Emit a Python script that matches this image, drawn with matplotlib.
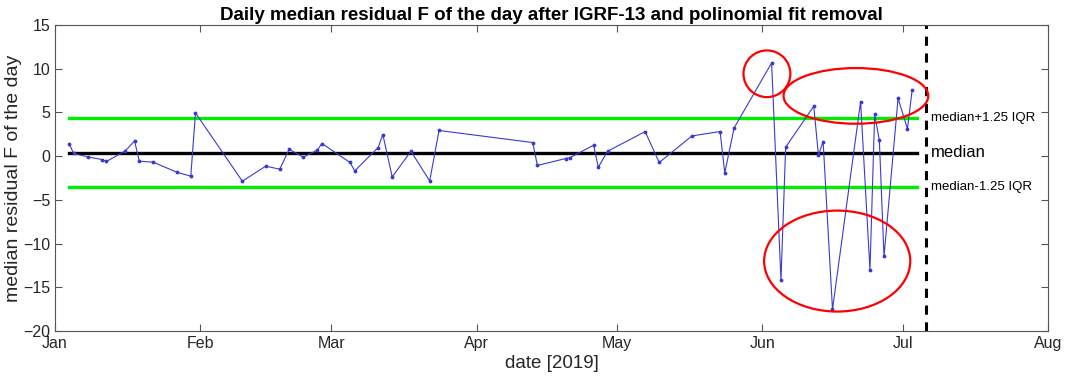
import matplotlib
matplotlib.use("Agg")
import matplotlib.pyplot as plt
import matplotlib.dates as mdates
import numpy as np
from matplotlib.patches import Ellipse
from datetime import datetime, timedelta

plt.rcParams["font.family"] = ["Liberation Sans", "DejaVu Sans"]

# daily median residual F (nT)
dates = ["2019-01-04", "2019-01-05", "2019-01-08", "2019-01-11", "2019-01-12",
         "2019-01-16", "2019-01-18", "2019-01-19", "2019-01-22", "2019-01-27",
         "2019-01-30", "2019-01-31", "2019-02-10", "2019-02-15", "2019-02-18",
         "2019-02-20", "2019-02-23", "2019-02-26", "2019-02-27", "2019-03-05",
         "2019-03-06", "2019-03-11", "2019-03-12", "2019-03-14", "2019-03-18",
         "2019-03-22", "2019-03-24", "2019-04-13", "2019-04-14", "2019-04-20",
         "2019-04-21", "2019-04-26", "2019-04-27", "2019-04-29", "2019-05-07",
         "2019-05-10", "2019-05-17", "2019-05-23", "2019-05-24", "2019-05-26",
         "2019-06-03", "2019-06-05", "2019-06-06", "2019-06-12", "2019-06-13",
         "2019-06-14", "2019-06-16", "2019-06-22", "2019-06-24", "2019-06-25",
         "2019-06-26", "2019-06-27", "2019-06-30", "2019-07-02", "2019-07-03"]
residual = [1.45, 0.31, -0.08, -0.38, -0.6, 0.6, 1.75, -0.57, -0.69, -1.83,
            -2.29, 4.95, -2.86, -1.14, -1.49, 0.8, -0.11, 0.69, 1.45, -0.72,
            -1.68, 0.99, 2.48, -2.37, 0.57, -2.83, 2.94, 1.56, -1.06, -0.27,
            -0.15, 1.26, -1.26, 0.57, 2.82, -0.72, 2.32, 2.82, -1.91, 3.24,
            10.67, -14.18, 1.03, 5.72, 0.11, 1.68, -17.54, 6.25, -13.04, 4.8,
            1.83, -11.47, 6.63, 3.12, 7.55]

median_val = 0.42
iqr = 3.17
cutoff_date = "2019-07-06"

# red annotation ellipses: centre date, centre value, width (days), height
ell_centres = ["2019-06-02", "2019-06-21", "2019-06-17"]
ell_values = [9.43, 6.9, -12.0]
ell_widths = [10.0, 30.9, 31.2]
ell_heights = [5.34, 6.37, 11.55]

x = [datetime.strptime(d, "%Y-%m-%d") for d in dates]

fig = plt.figure(figsize=(10.65, 3.86), dpi=100)
ax = fig.add_axes([0.0516, 0.1425, 0.9324, 0.7925])

ax.plot(x, residual, color="#3a3ad0", lw=0.8, marker=".", ms=3.5, zorder=3)

lo, hi = x[0], x[-1] + timedelta(days=1)
ax.plot([lo, hi], [median_val + 1.25 * iqr] * 2, color="#00ee00", lw=2.4, zorder=2)
ax.plot([lo, hi], [median_val] * 2, color="black", lw=2.4, zorder=2)
ax.plot([lo, hi], [median_val - 1.25 * iqr] * 2, color="#00ee00", lw=2.4, zorder=2)

cut = datetime.strptime(cutoff_date, "%Y-%m-%d")
ax.axvline(cut, color="black", lw=2.2, ls=(0, (3, 2.5)), zorder=2)

for c, v, w, h in zip(ell_centres, ell_values, ell_widths, ell_heights):
    cx = mdates.date2num(datetime.strptime(c, "%Y-%m-%d"))
    ax.add_patch(Ellipse((cx, v), w, h, fill=False, ec="red", lw=1.6, zorder=4))

tx = cut + timedelta(days=1)
ax.text(tx, median_val + 1.25 * iqr, "median+1.25 IQR", fontsize=9.5, va="center", ha="left")
ax.text(tx, median_val, "median", fontsize=12, va="center", ha="left")
ax.text(tx, median_val - 1.25 * iqr, "median-1.25 IQR", fontsize=9.5, va="center", ha="left")

ax.set_xlim(datetime(2019, 1, 1), datetime(2019, 8, 1))
ax.set_ylim(-20, 15)
ax.set_yticks(np.arange(-20, 16, 5))
ax.xaxis.set_major_locator(mdates.MonthLocator())
ax.xaxis.set_major_formatter(mdates.DateFormatter("%b"))
ax.tick_params(direction="in", top=True, right=True, length=5, width=0.8,
               labelsize=11.5, colors="#262626", color="#555555")
for s in ax.spines.values():
    s.set_color("#555555")
    s.set_linewidth(0.8)

ax.set_xlabel("date [2019]", fontsize=13.5, color="#262626", labelpad=3)
ax.set_ylabel("median residual F of the day", fontsize=14, color="#262626", labelpad=1)
ax.set_title("Daily median residual F of the day after IGRF-13 and polinomial fit removal",
             fontsize=13.5, fontweight="bold", pad=4)

fig.savefig("out.png", dpi=100)
